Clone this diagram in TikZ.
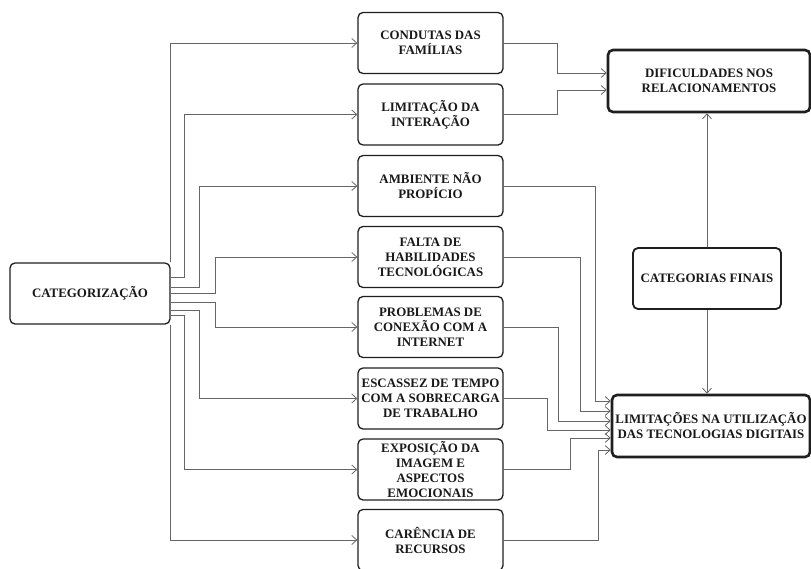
\documentclass[tikz,border=0pt]{standalone}
\usepackage{fontspec}
\setmainfont{Liberation Serif}
\usetikzlibrary{arrows.meta}
\begin{document}
\begin{tikzpicture}[x=1pt,y=-1pt,
  box/.style={draw=black!88, line width=1.3pt, rounded corners=5pt, align=center,
    font=\bfseries\fontsize{12.9}{15}\selectfont, inner sep=1pt, text=black!90},
  mid/.style={box, minimum width=145pt, minimum height=61pt},
  big/.style={box, line width=2.6pt},
  conn/.style={draw=black!60, line width=0.9pt},
  arr/.style={conn, -{Straight Barb[length=5pt,width=9pt,line width=0.8pt]}},
]
\clip (0,0) rectangle (811,568);
\fill[white] (0,0) rectangle (811,568);

\node[box, minimum width=160pt, minimum height=61pt] (cat) at (90,293.5) {CATEGORIZAÇÃO};

\node[mid] (m1) at (430.5,43) {CONDUTAS DAS\\FAMÍLIAS};
\node[mid] (m2) at (430.5,114.5) {LIMITAÇÃO DA\\INTERAÇÃO};
\node[mid] (m3) at (430.5,186) {AMBIENTE NÃO\\PROPÍCIO};
\node[mid] (m4) at (430.5,257) {FALTA DE\\HABILIDADES\\TECNOLÓGICAS};
\node[mid] (m5) at (430.5,327) {PROBLEMAS DE\\CONEXÃO COM A\\INTERNET};
\node[mid] (m6) at (430.5,398.5) {ESCASSEZ DE TEMPO\\COM A SOBRECARGA\\DE TRABALHO};
\node[mid] (m7) at (430.5,469.5) {EXPOSIÇÃO DA\\IMAGEM E\\ASPECTOS\\EMOCIONAIS};
\node[mid] (m8) at (430.5,540) {CARÊNCIA DE\\RECURSOS};

\node[big, minimum width=202pt, minimum height=62pt] (dif) at (709,81) {DIFICULDADES NOS\\RELACIONAMENTOS};
\node[box, line width=1.8pt, minimum width=148pt, minimum height=61pt] (fin) at (707,278.5) {CATEGORIAS FINAIS};
\node[big, minimum width=198pt, minimum height=62pt] (lim) at (711,426) {LIMITAÇÕES NA UTILIZAÇÃO\\DAS TECNOLOGIAS DIGITAIS};

% left connectors
\draw[arr] (cat.north east) |- (m1.west);
\draw[arr] (cat.east|-0,277) -- ++(14,0) |- (m2.west);
\draw[arr] (cat.east|-0,287) -- ++(29,0) |- (m3.west);
\draw[arr] (cat.east|-0,293) -- ++(45,0) |- (m4.west);
\draw[arr] (cat.east|-0,302) -- ++(45,0) |- (m5.west);
\draw[arr] (cat.east|-0,310) -- ++(29,0) |- (m6.west);
\draw[arr] (cat.east|-0,315) -- ++(14,0) |- (m7.west);
\draw[arr] (cat.south east) |- (m8.west);

% right connectors
\draw[arr] (m1.east) -- ++(54,0) |- (dif.west|-0,73);
\draw[arr] (m2.east) -- ++(54,0) |- (dif.west|-0,90);
\draw[arr] (m3.east) -- ++(92,0) |- (lim.west|-0,401);
\draw[arr] (m4.east) -- ++(77,0) |- (lim.west|-0,411);
\draw[arr] (m5.east) -- ++(55,0) |- (lim.west|-0,421);
\draw[arr] (m6.east) -- ++(44,0) |- (lim.west|-0,430);
\draw[arr] (m7.east) -- ++(67,0) |- (lim.west|-0,438);
\draw[arr] (m8.east) -- ++(95,0) |- (lim.west|-0,450);

\draw[arr] (fin.north) -- (fin.north|-dif.south);
\draw[arr] (fin.south) -- (fin.south|-lim.north);
\end{tikzpicture}
\end{document}
